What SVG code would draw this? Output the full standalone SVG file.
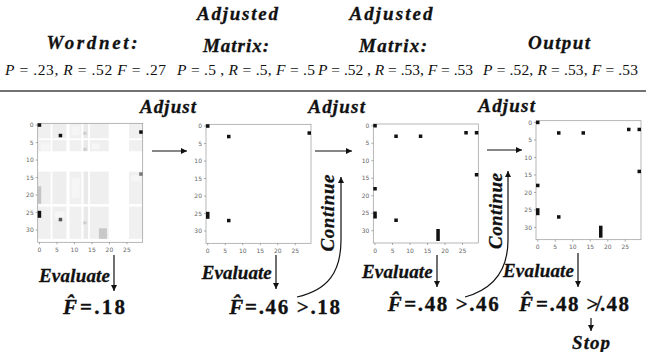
<svg xmlns="http://www.w3.org/2000/svg" xmlns:xlink="http://www.w3.org/1999/xlink" width="646" height="352" viewBox="0 0 646 352">
<style>
.t { font-family: "Liberation Serif", "DejaVu Serif", serif; font-weight: bold; font-style: italic; font-size: 19px; fill: #111; stroke: #111; stroke-width: 0.3; }
.f { font-family: "Liberation Serif", "DejaVu Serif", serif; font-weight: bold; font-size: 21px; fill: #111; stroke: #111; stroke-width: 0.3; }
.p { font-family: "Liberation Serif", serif; font-size: 15.5px; fill: #111; }
.p tspan.i { font-style: italic; }
.tk { font-family: "DejaVu Sans", sans-serif; font-size: 6px; fill: #666; }
.tl { stroke: #777; stroke-width: 0.6; }
.frame { fill: none; stroke: #999; stroke-width: 0.7; }
.cell { fill: #111; }
.conn { fill: none; stroke: #111; stroke-width: 1.2; }
</style>
<defs>
<marker id="ah" markerWidth="6" markerHeight="6" refX="6" refY="3" orient="auto" markerUnits="userSpaceOnUse">
<path d="M0,0 L6,3 L0,6 z" fill="#111"/>
</marker>
<g id="axes">
<rect class="frame" x="0" y="0" width="105" height="119"/>
<g class="tl">
<line x1="-2" y1="1.75" x2="0" y2="1.75"/><line x1="-2" y1="19.25" x2="0" y2="19.25"/><line x1="-2" y1="36.75" x2="0" y2="36.75"/><line x1="-2" y1="54.25" x2="0" y2="54.25"/><line x1="-2" y1="71.75" x2="0" y2="71.75"/><line x1="-2" y1="89.25" x2="0" y2="89.25"/><line x1="-2" y1="106.75" x2="0" y2="106.75"/>
<line x1="1.75" y1="119" x2="1.75" y2="121"/><line x1="19.25" y1="119" x2="19.25" y2="121"/><line x1="36.75" y1="119" x2="36.75" y2="121"/><line x1="54.25" y1="119" x2="54.25" y2="121"/><line x1="71.75" y1="119" x2="71.75" y2="121"/><line x1="89.25" y1="119" x2="89.25" y2="121"/>
</g>
<g class="tk" text-anchor="end">
<text x="-4" y="3.9">0</text><text x="-4" y="21.4">5</text><text x="-4" y="38.9">10</text><text x="-4" y="56.4">15</text><text x="-4" y="73.9">20</text><text x="-4" y="91.4">25</text><text x="-4" y="108.9">30</text>
</g>
<g class="tk" text-anchor="middle">
<text x="1.75" y="128.5">0</text><text x="19.25" y="128.5">5</text><text x="36.75" y="128.5">10</text><text x="54.25" y="128.5">15</text><text x="71.75" y="128.5">20</text><text x="89.25" y="128.5">25</text>
</g>
</g>
<g id="cells2" class="cell">
<rect x="0" y="0" width="3.5" height="3.5"/>
<rect x="21" y="10.5" width="3.5" height="3.5"/>
<rect x="101.5" y="7" width="3.5" height="3.5"/>
<rect x="0" y="87.5" width="3.5" height="7"/>
<rect x="21" y="94.5" width="3.5" height="3.5"/>
</g>
<g id="cells34" class="cell">
<use xlink:href="#cells2"/>
<rect x="45.5" y="10.5" width="3.5" height="3.5"/>
<rect x="91" y="7" width="3.5" height="3.5"/>
<rect x="101.5" y="49" width="3.5" height="3.5"/>
<rect x="0" y="63" width="3.5" height="3.5"/>
<rect x="63" y="105" width="3.5" height="12"/>
</g>
</defs>

<rect x="0" y="0" width="646" height="352" fill="#fff"/>

<g id="header">
<text class="t" x="92" y="49" text-anchor="middle" textLength="91" lengthAdjust="spacing">Wordnet:</text>
<text class="t" x="237.5" y="20" text-anchor="middle" textLength="81" lengthAdjust="spacing">Adjusted</text>
<text class="t" x="236" y="52" text-anchor="middle" textLength="66" lengthAdjust="spacing">Matrix:</text>
<text class="t" x="391" y="20" text-anchor="middle" textLength="83" lengthAdjust="spacing">Adjusted</text>
<text class="t" x="393" y="52" text-anchor="middle" textLength="68" lengthAdjust="spacing">Matrix:</text>
<text class="t" x="559" y="49" text-anchor="middle" textLength="62" lengthAdjust="spacing">Output</text>
<text class="p" x="5" y="75" textLength="161" lengthAdjust="spacing"><tspan class="i">P</tspan> =  .23, <tspan class="i">R</tspan> = .52 <tspan class="i">F</tspan> = .27</text>
<text class="p" x="177" y="75" textLength="138" lengthAdjust="spacing"><tspan class="i">P</tspan> = .5 , <tspan class="i">R</tspan> = .5, <tspan class="i">F</tspan> = .5</text>
<text class="p" x="318" y="75" textLength="155" lengthAdjust="spacing"><tspan class="i">P</tspan> = .52 , <tspan class="i">R</tspan> = .53, <tspan class="i">F</tspan> = .53</text>
<text class="p" x="483" y="75" textLength="155" lengthAdjust="spacing"><tspan class="i">P</tspan> =  .52, <tspan class="i">R</tspan> = .53, <tspan class="i">F</tspan> = .53</text>
<line x1="0" y1="91" x2="646" y2="91" stroke="#444" stroke-width="1.5"/>
</g>

<g id="matrix1" transform="translate(37.7,123.3)">
<g fill="#f0f0f0">
<rect x="0" y="0" width="12.95" height="115.5"/>
<rect x="14.7" y="0" width="14" height="115.5" fill="#eeeeee"/>
<rect x="31.85" y="0" width="11.9" height="115.5"/>
<rect x="45.85" y="0" width="4.55" height="115.5" fill="#e9e9e9"/>
<rect x="52.15" y="0" width="18.9" height="115.5" fill="#efefef"/>
<rect x="91.35" y="0" width="13.65" height="115.5"/>
</g>
<g fill="#f6f6f6">
<rect x="3" y="20" width="9" height="7"/>
<rect x="34" y="3" width="8" height="9"/>
<rect x="54" y="20" width="8" height="6"/>
<rect x="93" y="52" width="10" height="6"/>
<rect x="17" y="88" width="10" height="8"/>
<rect x="34" y="55" width="8" height="20"/>
</g>
<g fill="#fff">
<rect x="0" y="15.05" width="105" height="1.75"/>
<rect x="0" y="28" width="105" height="20.3"/>
<rect x="0" y="80.85" width="105" height="2.45"/>
</g>
<use xlink:href="#axes"/>
<rect x="0" y="0" width="3.5" height="3.5" fill="#111"/>
<rect x="21" y="10.5" width="3.5" height="3.5" fill="#111"/>
<rect x="101.5" y="7" width="3.5" height="3.5" fill="#111"/>
<rect x="101.5" y="49" width="3.5" height="3.5" fill="#777"/>
<rect x="0" y="63" width="3.5" height="17.5" fill="#c4c4c4"/>
<rect x="0" y="87.5" width="3.5" height="7" fill="#111"/>
<rect x="21" y="94.5" width="3.5" height="3.5" fill="#555"/>
<rect x="45.5" y="8.5" width="3.5" height="3" fill="#d0d0d0"/>
<rect x="45.5" y="24.5" width="3.5" height="3" fill="#d0d0d0"/>
<rect x="45.5" y="98" width="3.5" height="3" fill="#d0d0d0"/>
<rect x="61.25" y="105" width="8" height="10.5" fill="#c8c8c8"/>
</g>

<g id="matrix2" transform="translate(206,124.3)">
<use xlink:href="#axes"/>
<use xlink:href="#cells2"/>
</g>

<g id="matrix3" transform="translate(373.3,124)">
<use xlink:href="#axes"/>
<use xlink:href="#cells34"/>
</g>

<g id="matrix4" transform="translate(536,120.7)">
<use xlink:href="#axes"/>
<use xlink:href="#cells34"/>
</g>

<g id="labels">
<text class="t" x="140" y="112.5" textLength="56" lengthAdjust="spacing">Adjust</text>
<text class="t" x="308.3" y="112.5" textLength="56.7" lengthAdjust="spacing">Adjust</text>
<text class="t" x="478.3" y="112" textLength="56.7" lengthAdjust="spacing">Adjust</text>
<text class="t" x="39" y="281.7" textLength="71" lengthAdjust="spacing">Evaluate</text>
<text class="t" x="201.7" y="279" textLength="70" lengthAdjust="spacing">Evaluate</text>
<text class="t" x="362" y="278" textLength="70.7" lengthAdjust="spacing">Evaluate</text>
<text class="t" x="503" y="277" textLength="71" lengthAdjust="spacing">Evaluate</text>
<text class="t" transform="translate(333.5,213) rotate(-90)" text-anchor="middle" font-size="21" textLength="77" lengthAdjust="spacing">Continue</text>
<text class="t" transform="translate(502,211) rotate(-90)" text-anchor="middle" font-size="21" textLength="76" lengthAdjust="spacing">Continue</text>
<text class="t" x="591" y="349" text-anchor="middle" textLength="38" lengthAdjust="spacing">Stop</text>
</g>

<g id="scores">
<text class="f" x="63" y="314" font-style="italic">F&#x302;</text>
<text class="f" x="80" y="314" textLength="45" lengthAdjust="spacing">=.18</text>
<text class="f" x="229.3" y="314" font-style="italic">F&#x302;</text>
<text class="f" x="245" y="314" textLength="95" lengthAdjust="spacing">=.46 &gt;.18</text>
<text class="f" x="387.7" y="311" font-style="italic">F&#x302;</text>
<text class="f" x="404.3" y="311" textLength="94.4" lengthAdjust="spacing">=.48 &gt;.46</text>
<text class="f" x="519" y="311" font-style="italic">F&#x302;</text>
<text class="f" x="536" y="311" textLength="93" lengthAdjust="spacing">=.48 &#x226F;.48</text>
</g>

<g id="connectors" class="conn" marker-end="url(#ah)">
<line x1="152" y1="151" x2="187" y2="151"/>
<line x1="315" y1="151" x2="352" y2="151"/>
<line x1="487" y1="150" x2="522" y2="150"/>
<line x1="114" y1="255" x2="114" y2="291"/>
<line x1="276" y1="255" x2="276" y2="289"/>
<line x1="437" y1="255" x2="437" y2="287"/>
<line x1="578" y1="253" x2="578" y2="287"/>
<line x1="591" y1="318" x2="591" y2="331"/>
<path d="M297,297 C328,290 341,272 341,240 L341,177"/>
<path d="M465,297 C494,289 508,270 508,240 L508,171"/>
</g>
</svg>
